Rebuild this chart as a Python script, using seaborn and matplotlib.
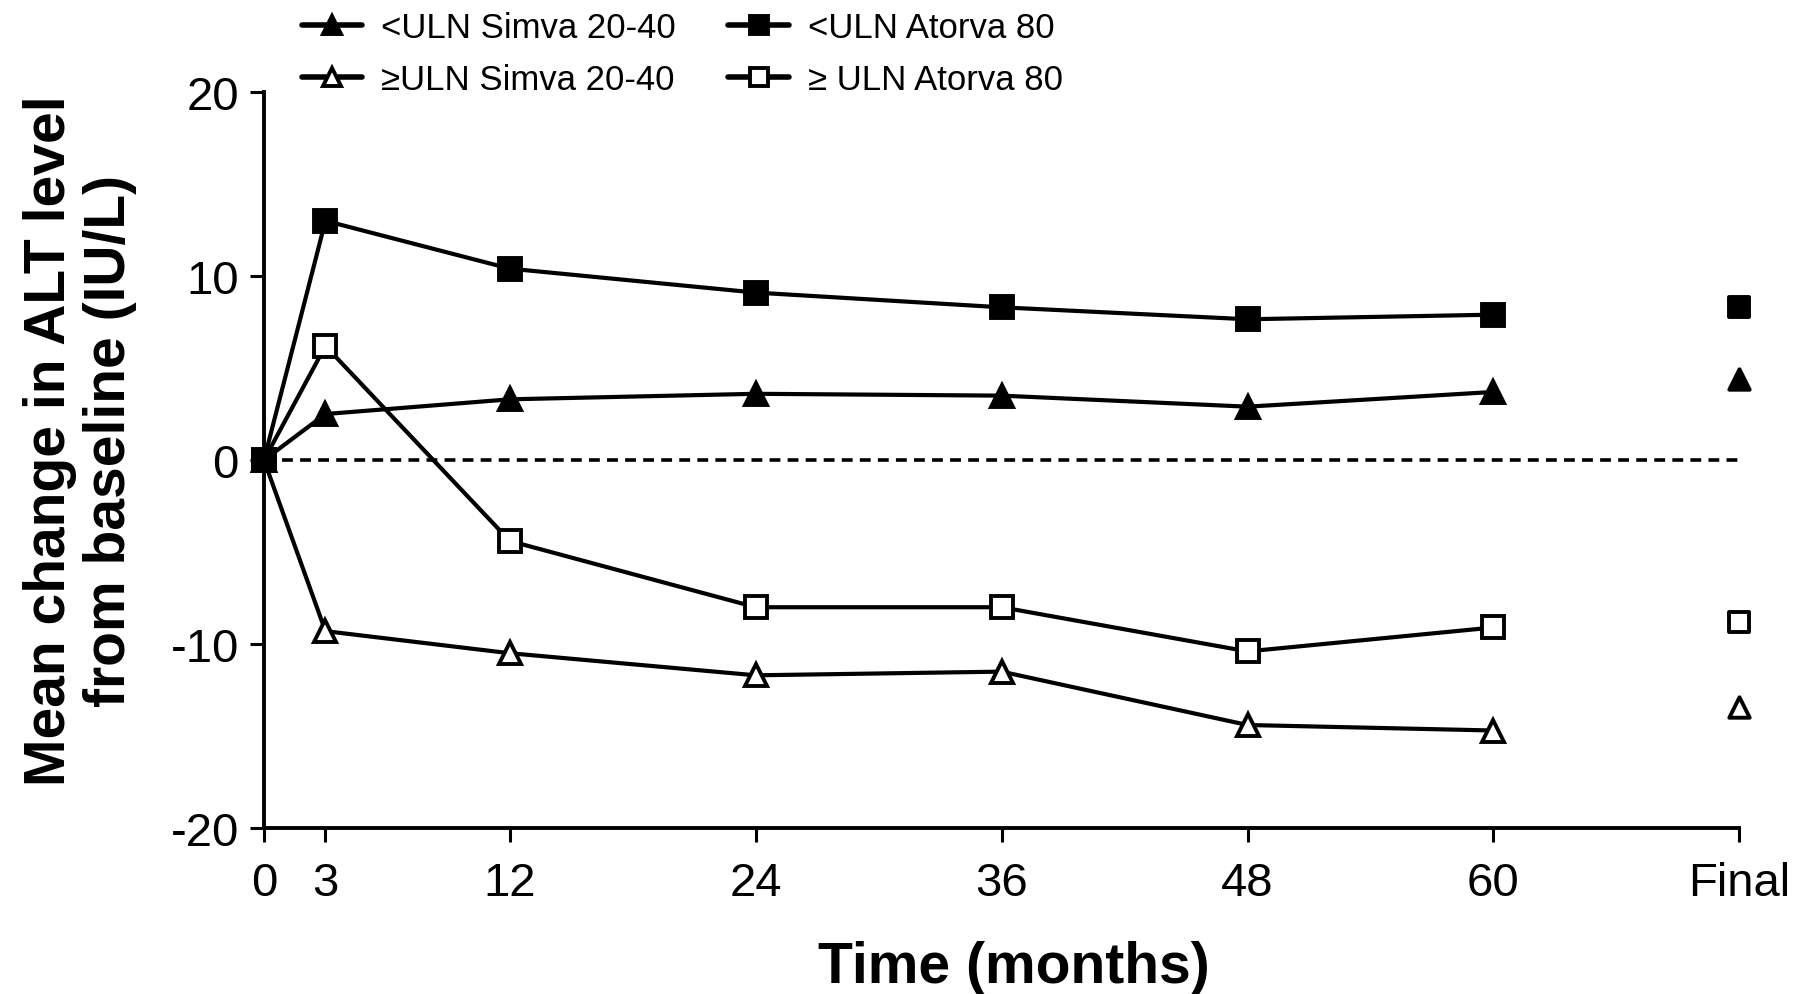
import matplotlib
matplotlib.use("Agg")
import matplotlib.pyplot as plt
import seaborn as sns
import pandas as pd

# ---- data ----
months = [0, 3, 12, 24, 36, 48, 60]
tick_positions = [0, 3, 12, 24, 36, 48, 60, 72]
tick_labels = ["0", "3", "12", "24", "36", "48", "60", "Final"]
final_x = [72]

simva_lt = [0, 2.5, 3.3, 3.6, 3.5, 2.9, 3.7]
simva_lt_final = [4.4]
simva_ge = [0, -9.3, -10.5, -11.7, -11.5, -14.4, -14.7]
simva_ge_final = [-13.4]
atorva_lt = [0, 13.0, 10.4, 9.1, 8.3, 7.65, 7.9]
atorva_lt_final = [8.3]
atorva_ge = [0, 6.2, -4.4, -8.0, -8.0, -10.4, -9.1]
atorva_ge_final = [-8.8]

labels = ["<ULN Simva 20-40", "\u2265ULN Simva 20-40", "<ULN Atorva 80", "\u2265 ULN Atorva 80"]

sns.set_style("ticks")
plt.rcParams["font.family"] = ["Liberation Sans", "DejaVu Sans"]
plt.rcParams["axes.unicode_minus"] = False
plt.rcParams["text.color"] = "black"
plt.rcParams["axes.labelcolor"] = "black"
plt.rcParams["xtick.color"] = "black"
plt.rcParams["ytick.color"] = "black"

fig = plt.figure(figsize=(18.08, 9.95), dpi=100)
ax = fig.add_axes([0.146, 0.1668, 0.816, 0.7397])

series = [
    (simva_lt, simva_lt_final, "^", "black", 3),
    (simva_ge, simva_ge_final, "^", "white", 3),
    (atorva_ge, atorva_ge_final, "s", "white", 3),
    (atorva_lt, atorva_lt_final, "s", "black", 4),
]
order_labels = [labels[0], labels[1], labels[3], labels[2]]

ms = 16
lw = 3.0
for (vals, fin, mk, fc, z), lab in zip(series, order_labels):
    df = pd.DataFrame({"month": months, "value": vals})
    sns.lineplot(data=df, x="month", y="value", ax=ax, color="black",
                 linewidth=lw, marker=mk, markersize=ms, markerfacecolor=fc,
                 markeredgecolor="black", markeredgewidth=2.8, clip_on=False,
                 label=lab, zorder=z)
    dff = pd.DataFrame({"month": final_x, "value": fin})
    sns.scatterplot(data=dff, x="month", y="value", ax=ax, marker=mk,
                    s=(ms * 0.92) ** 2, facecolor=fc, edgecolor="black",
                    linewidth=2.8, clip_on=False, zorder=z, legend=False)

ax.axhline(0, color="black", linewidth=2.6, linestyle=(0, (3, 2)), zorder=2)

ax.set_xlim(0, 72)
ax.set_ylim(-20, 20)
ax.set_xticks(tick_positions)
ax.set_xticklabels(tick_labels)
ax.set_yticks([-20, -10, 0, 10, 20])

for side in ["top", "right"]:
    ax.spines[side].set_visible(False)
for side in ["left", "bottom"]:
    ax.spines[side].set_linewidth(2.8)
    ax.spines[side].set_color("black")

ax.tick_params(axis="both", direction="out", length=10, width=2.2, colors="black", labelsize=34)
ax.tick_params(axis="x", pad=14)
ax.tick_params(axis="y", pad=8)

ax.set_xlabel("Time (months)", fontsize=41, fontweight="bold")
ax.set_ylabel("Mean change in ALT level\nfrom baseline (IU/L)", fontsize=41,
              fontweight="bold", linespacing=1.15)
ax.yaxis.set_label_coords(-0.086, 0.527)
ax.xaxis.set_label_coords(0.508, -0.152)

h, l = ax.get_legend_handles_labels()
hd = dict(zip(l, h))
ax.get_legend().remove()
leg = fig.legend([hd[x] for x in labels], labels, loc="upper left", bbox_to_anchor=(0.1495, 1.019), ncol=2,
                 frameon=False, fontsize=25, handlelength=1.75, handletextpad=0.55,
                 columnspacing=1.5, labelspacing=0.55, markerscale=0.85)
for ln in leg.get_lines():
    ln.set_linewidth(4.0)

fig.savefig("out.png", dpi=100, facecolor="white")
